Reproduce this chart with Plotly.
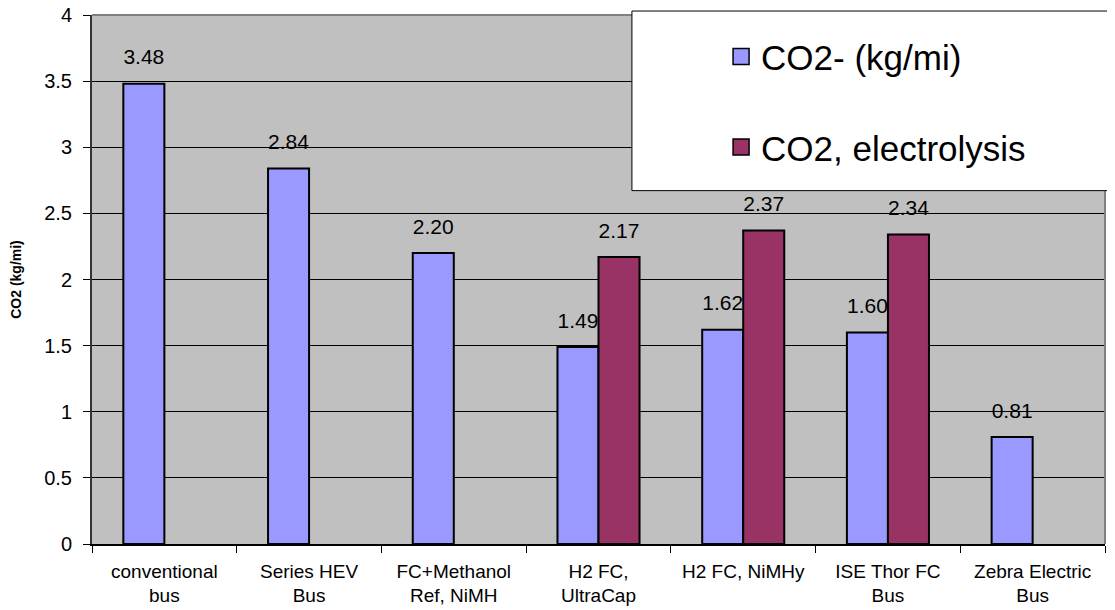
import plotly.graph_objects as go

categories = ["conventional<br>bus", "Series HEV<br>Bus", "FC+Methanol<br>Ref, NiMH",
              "H2 FC,<br>UltraCap", "H2 FC, NiMHy", "ISE Thor FC<br>Bus", "Zebra Electric<br>Bus"]
co2_kgmi = [3.48, 2.84, 2.20, 1.49, 1.62, 1.60, 0.81]
co2_electrolysis = [None, None, None, 2.17, 2.37, 2.34, None]
series_names = ["CO2- (kg/mi)", "CO2, electrolysis"]
series_colors = ["#9999FF", "#993366"]
y_tick_values = [0, 0.5, 1, 1.5, 2, 2.5, 3, 3.5, 4]
y_tick_labels = ["0", "0.5", "1", "1.5", "2", "2.5", "3", "3.5", "4"]
y_title = "CO2 (kg/mi)"

FONT = "Arial, 'Liberation Sans', sans-serif"
BARGAP = 0.433

fig = go.Figure()
series = [co2_kgmi, co2_electrolysis]
for name, vals, col in zip(series_names, series, series_colors):
    fig.add_trace(go.Bar(
        x=categories, y=vals, name=name, showlegend=False,
        marker=dict(color=col, line=dict(color="black", width=2)),
        hoverinfo="skip",
    ))
# value labels (grouped scatter so they align with the grouped bars)
for name, vals in zip(series_names, series):
    fig.add_trace(go.Scatter(
        x=categories, y=vals, mode="markers+text", showlegend=False,
        text=["" if v is None else f"{v:.2f}" for v in vals],
        textposition="top center",
        textfont=dict(family=FONT, size=21, color="black"),
        marker=dict(size=21, color="rgba(0,0,0,0)"),
        hoverinfo="skip", cliponaxis=False,
    ))
# legend entries
for i, (name, col) in enumerate(zip(series_names, series_colors)):
    fig.add_trace(go.Scatter(
        x=[None], y=[None], mode="markers", name=name,
        legendgroup=f"g{i}",
        marker=dict(symbol="square", size=23, color=col,
                    line=dict(color="black", width=1.5)),
        xaxis="x2", yaxis="y2",
    ))

# plot border (top/right) and legend box
fig.add_shape(type="line", xref="paper", yref="paper", x0=0, x1=1, y0=1, y1=1,
              line=dict(color="#808080", width=2), layer="above")
fig.add_shape(type="line", xref="paper", yref="paper", x0=1, x1=1, y0=0, y1=1,
              line=dict(color="#808080", width=2), layer="above")
fig.add_shape(type="rect", xref="paper", yref="paper",
              x0=0.533, x1=1.03, y0=0.668, y1=1.0075,
              fillcolor="white", line=dict(color="black", width=1), layer="above")

fig.update_layout(
    width=1115, height=610,
    margin=dict(l=84, r=18, t=7, b=74, autoexpand=False),
    paper_bgcolor="white", plot_bgcolor="#C0C0C0",
    barmode="group", bargap=BARGAP, bargroupgap=0,
    scattermode="group", scattergap=BARGAP,
    font=dict(family=FONT, color="black"),
    legend=dict(
        x=0.621, y=0.977, xanchor="left", yanchor="top",
        bgcolor="rgba(0,0,0,0)", borderwidth=0,
        font=dict(family=FONT, size=35, color="black"),
        traceorder="grouped", tracegroupgap=42,
    ),
    xaxis=dict(
        type="category", showgrid=False, showline=True, linecolor="black", linewidth=1.5,
        ticks="outside", tickson="boundaries", ticklen=7, tickcolor="black",
        tickfont=dict(family=FONT, size=19, color="black"),
        ticklabelstandoff=9, ticklabeloverflow="allow",
        zeroline=False, automargin=False,
    ),
    yaxis=dict(
        range=[0, 4], tickvals=y_tick_values, ticktext=y_tick_labels,
        showgrid=True, gridcolor="black", gridwidth=1,
        showline=True, linecolor="#333333", linewidth=2,
        ticks="outside", ticklen=7, tickcolor="black",
        tickfont=dict(family=FONT, size=20, color="black"),
        ticklabelstandoff=7, ticklabeloverflow="allow",
        zeroline=False, automargin=False,
        title=dict(text=f"<b>{y_title}</b>", font=dict(family=FONT, size=14, color="black"),
                   standoff=26),
    ),
    xaxis2=dict(visible=False, overlaying="x"),
    yaxis2=dict(visible=False, overlaying="y"),
)

fig.write_html("out.html")
